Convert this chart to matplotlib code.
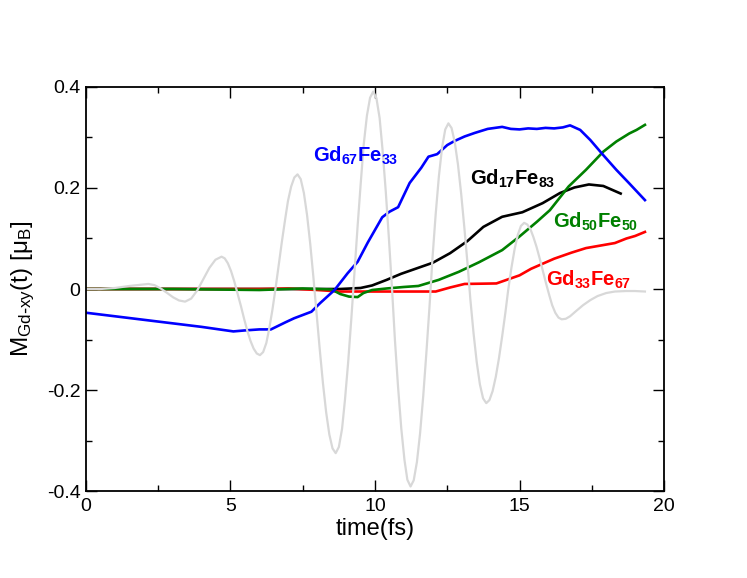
import matplotlib
matplotlib.use("Agg")
import matplotlib.pyplot as plt
from matplotlib.ticker import MultipleLocator

plt.rcParams['font.family'] = ['Liberation Sans', 'DejaVu Sans']
plt.rcParams['mathtext.default'] = 'regular'

# laser field (grey, scaled)
grey_t = [0, 0.5, 1.0, 1.5, 2.16, 2.37, 2.58, 2.80, 3.01, 3.22, 3.43, 3.64, 3.85, 4.06,
          4.27, 4.48, 4.69,
          4.80, 4.91, 5.02, 5.13, 5.24, 5.36, 5.47, 5.58, 5.69, 5.80, 5.91, 6.02,
          6.13, 6.24, 6.34, 6.45, 6.56, 6.67, 6.78, 6.89, 6.99, 7.10, 7.21, 7.32,
          7.43, 7.54, 7.65, 7.76, 7.87, 7.98, 8.09, 8.20, 8.31, 8.42, 8.53, 8.64,
          8.75, 8.86, 8.96, 9.07, 9.18, 9.29, 9.40, 9.51, 9.61, 9.72, 9.83, 9.94,
          10.05, 10.16, 10.26, 10.37, 10.48, 10.59, 10.69, 10.80, 10.91, 11.02, 11.12, 11.23,
          11.34, 11.45, 11.56, 11.67, 11.78, 11.89, 11.99, 12.10, 12.21, 12.32, 12.43, 12.54,
          12.65, 12.76, 12.87, 12.98, 13.09, 13.20, 13.30, 13.41, 13.52, 13.63, 13.74, 13.85,
          13.96, 14.07, 14.18, 14.29, 14.40, 14.51, 14.61, 14.72, 14.83, 14.94, 15.05, 15.16,
          15.27, 15.38, 15.48, 15.59, 15.70, 15.81, 15.92, 16.03, 16.13, 16.24, 16.35, 16.46,
          16.60, 16.75, 16.95, 17.20, 17.45, 17.70, 18.00, 18.30, 18.70, 19.00, 19.34]
grey_v = [0.0, 0.0, 0.002, 0.006, 0.010, 0.0077, 0.0013, -0.0075, -0.0163, -0.0227, -0.025,
          -0.019, -0.0028, 0.0195, 0.0418, 0.058, 0.064,
          0.0607, 0.0509, 0.0354, 0.0153, -0.0082, -0.0335, -0.0588, -0.0823, -0.1024,
          -0.1179, -0.1277, -0.131,
          -0.1249, -0.107, -0.0786, -0.0415, 0.0016, 0.048, 0.0944, 0.1375, 0.1746, 0.203,
          0.2209, 0.227,
          0.2176, 0.190, 0.1461, 0.089, 0.0225, -0.049, -0.1205, -0.187, -0.2441, -0.288,
          -0.3156, -0.325,
          -0.3128, -0.277, -0.2201, -0.146, -0.0597, 0.033, 0.1257, 0.212, 0.2861, 0.343,
          0.3788, 0.391,
          0.3777, 0.3386, 0.2764, 0.1955, 0.1013, 0.0, -0.1013, -0.1955, -0.2764, -0.3386,
          -0.3777, -0.391,
          -0.3788, -0.3428, -0.2857, -0.2113, -0.1246, -0.0315, 0.0616, 0.1483, 0.2227,
          0.2798, 0.3158, 0.328,
          0.3186, 0.2909, 0.2468, 0.1895, 0.1227, 0.051, -0.0207, -0.0875, -0.1448, -0.1889,
          -0.2166, -0.226,
          -0.2199, -0.2021, -0.1737, -0.1368, -0.0937, -0.0475, -0.0013, 0.0418, 0.0787,
          0.1071, 0.1249, 0.131,
          0.1277, 0.1182, 0.103, 0.0833, 0.0602, 0.0355, 0.0108, -0.0123, -0.032, -0.0472,
          -0.0567, -0.060,
          -0.059, -0.054, -0.044, -0.032, -0.022, -0.014, -0.008, -0.005, -0.004, -0.004, -0.005]

# Gd17Fe83
black_t = [0, 4, 8, 8.8, 9.5, 9.9, 10.4, 10.9, 11.4, 12.0, 12.6, 13.2, 13.75, 14.4, 15.1,
           15.8, 16.4, 16.9, 17.4, 17.9, 18.5]
black_v = [0, 0, 0, 0.0, 0.002, 0.007, 0.018, 0.030, 0.040, 0.052, 0.071, 0.095, 0.123,
           0.143, 0.152, 0.170, 0.190, 0.201, 0.207, 0.204, 0.189]

# Gd33Fe67
red_t = [0, 2, 4, 6, 7, 8, 8.8, 9.8, 11, 12.1, 12.6, 13.1, 14.2, 15.0, 15.4, 16.2, 16.8,
         17.3, 17.9, 18.3, 18.7, 19.0, 19.34]
red_v = [0, 0, 0.0, 0.0, 0.001, -0.002, -0.005, -0.005, -0.005, -0.005, 0.003, 0.010,
         0.011, 0.027, 0.040, 0.060, 0.072, 0.081, 0.087, 0.091, 0.100, 0.105, 0.113]

# Gd50Fe50
green_t = [0, 3, 6, 7.5, 8.5, 8.8, 9.1, 9.4, 9.6, 9.9, 10.4, 11.0, 11.5, 12.2, 12.9, 13.6,
           14.4, 15.0, 15.6, 16.05, 16.7, 17.3, 17.9, 18.35, 18.8, 19.05, 19.34]
green_v = [0, 0, -0.002, 0.001, -0.001, -0.010, -0.015, -0.016, -0.008, -0.002, 0.001,
           0.004, 0.006, 0.018, 0.034, 0.053, 0.077, 0.104, 0.133, 0.156, 0.203, 0.236,
           0.272, 0.292, 0.308, 0.315, 0.325]

# Gd67Fe33
blue_t = [0, 1, 2, 3, 4, 5.1, 5.5, 6.0, 6.4, 6.9, 7.2, 7.8, 8.1, 8.6, 9.05, 9.4, 9.75,
          10.25, 10.5, 10.8, 11.2, 11.6, 11.85, 12.15, 12.5, 12.75, 13.1, 13.45, 13.9,
          14.4, 14.7, 15.0, 15.3, 15.6, 15.9, 16.2, 16.5, 16.75, 17.1, 17.45, 17.9,
          18.35, 18.8, 19.34]
blue_v = [-0.047, -0.054, -0.061, -0.068, -0.075, -0.084, -0.082, -0.080, -0.080, -0.066,
          -0.058, -0.045, -0.028, -0.002, 0.031, 0.054, 0.092, 0.142, 0.153, 0.162,
          0.210, 0.240, 0.262, 0.267, 0.285, 0.293, 0.302, 0.309, 0.317, 0.321, 0.317,
          0.316, 0.318, 0.317, 0.319, 0.318, 0.320, 0.324, 0.315, 0.295, 0.265, 0.236,
          0.209, 0.176]

fig = plt.figure(figsize=(7.47, 5.78), dpi=100)
ax = fig.add_axes([0.1151, 0.1505, 0.7738, 0.699])

ax.plot(black_t, black_v, color='black', lw=1.9)
ax.plot(red_t, red_v, color='red', lw=1.9)
ax.plot(green_t, green_v, color='#008000', lw=1.9)
ax.plot(blue_t, blue_v, color='blue', lw=1.9)
ax.plot(grey_t, grey_v, color='#d8d8d8', lw=1.6)

ax.text(7.87, 0.253, 'Gd$_{67}$Fe$_{33}$', color='blue', fontsize=14.5, fontweight='bold')
ax.text(13.29, 0.206, 'Gd$_{17}$Fe$_{83}$', color='black', fontsize=14.5, fontweight='bold')
ax.text(16.17, 0.121, 'Gd$_{50}$Fe$_{50}$', color='#008000', fontsize=14.5, fontweight='bold')
ax.text(15.92, 0.006, 'Gd$_{33}$Fe$_{67}$', color='red', fontsize=14.5, fontweight='bold')

ax.set_xlim(0, 20)
ax.set_ylim(-0.4, 0.4)
ax.xaxis.set_minor_locator(MultipleLocator(2.5))
ax.yaxis.set_minor_locator(MultipleLocator(0.1))
ax.set_xticks([0, 5, 10, 15, 20])
ax.set_xticklabels(['0', '5', '10', '15', '20'])
ax.set_yticks([-0.4, -0.2, 0, 0.2, 0.4])
ax.set_yticklabels(['-0.4', '-0.2', '0', '0.2', '0.4'])
ax.tick_params(which='both', direction='in', top=True, right=True, labelsize=14, width=1)
ax.tick_params(which='major', length=8, pad=5)
ax.tick_params(which='minor', length=4.5)
ax.tick_params(axis='y', which='major', pad=4)
for s in ax.spines.values():
    s.set_linewidth(1.3)

ax.set_xlabel('time(fs)', fontsize=17, labelpad=2)
ax.set_ylabel(r'M$_{Gd\text{-}xy}$(t) [μ$_B$]', fontsize=17.5, labelpad=7)

fig.savefig('out.png', dpi=100)
